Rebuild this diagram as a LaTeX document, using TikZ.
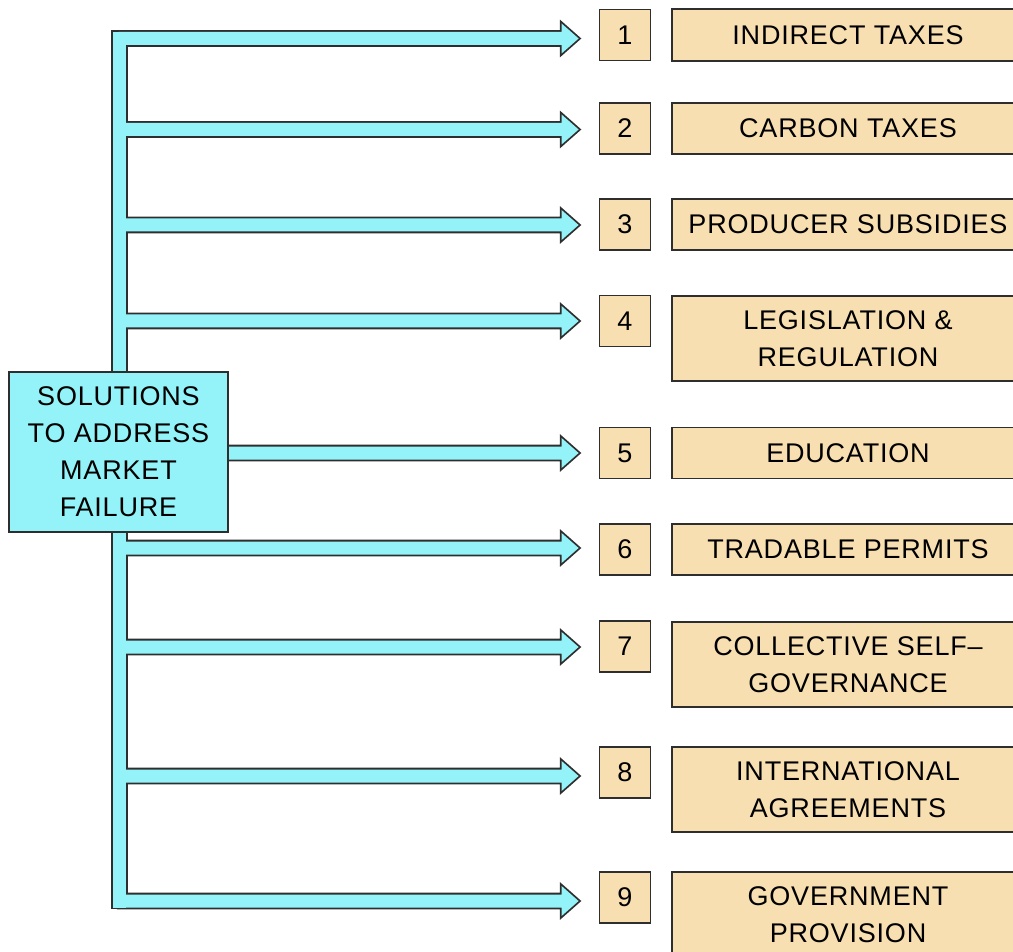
\documentclass[tikz,border=0pt]{standalone}
\usepackage{fontspec}
\setmainfont{Liberation Sans}[LetterSpace=3]
\usetikzlibrary{calc}
\definecolor{cyanfill}{HTML}{93F3F8}
\definecolor{tanfill}{HTML}{F8DFB1}
\definecolor{edgecol}{HTML}{2E2E2E}
\begin{document}
\begin{tikzpicture}[x=1pt,y=-1pt,
  font=\fontsize{27}{37}\selectfont,
  numbox/.style={draw=edgecol, line width=1.8pt, fill=tanfill, minimum width=51pt, minimum height=51pt, inner sep=0pt},
  itembox/.style={draw=edgecol, line width=1.8pt, fill=tanfill, minimum width=352pt, align=center, inner sep=0pt},
  mainbox/.style={draw=edgecol, line width=1.8pt, fill=cyanfill, minimum width=219pt, minimum height=160pt, align=center, inner sep=0pt},
  pipeedge/.style={draw=edgecol, line width=3.6pt, line join=miter},
  pipefill/.style={fill=cyanfill}]
\useasboundingbox (0,0) rectangle (1013,952);

% number boxes
\foreach \i/\y in {1/35,2/128.5,3/224.5,4/321,5/453,6/549.5,7/646.5,8/772.5,9/897.5}
  \node[numbox] (n\i) at (625,\y) {\i};

% item boxes
\node[itembox, minimum height=52pt] (b1) at (848,35) {INDIRECT TAXES};
\node[itembox, minimum height=51pt] (b2) at (848,128.5) {CARBON TAXES};
\node[itembox, minimum height=51pt] (b3) at (848,224.5) {PRODUCER SUBSIDIES};
\node[itembox, minimum height=85pt] (b4) at (848,338.5) {LEGISLATION \&\\REGULATION};
\node[itembox, minimum height=51pt] (b5) at (848,453) {EDUCATION};
\node[itembox, minimum height=51pt] (b6) at (848,549.5) {TRADABLE PERMITS};
\node[itembox, minimum height=85pt] (b7) at (848,664.5) {COLLECTIVE SELF--\\GOVERNANCE};
\node[itembox, minimum height=85pt] (b8) at (848,789.5) {INTERNATIONAL\\AGREEMENTS};
\node[itembox, minimum height=85pt] (b9) at (848,914.5) {GOVERNMENT\\PROVISION};

% arrow tips
\foreach \i/\d in {1/3.5,2/1,3/0.5,4/0,5/0,6/-1.5,7/0.5,8/3.5,9/3.5}
  \coordinate (t\i) at ($(n\i.west)+(-20,\d)$);

% pipe outline pass
\draw[pipeedge] (113,32) rectangle (126,907.5);
\foreach \i in {1,...,9}
  \draw[pipeedge] (t\i) -- ++(-17,-15) -- ++(0,8.5) -- ++(-443,0) -- ++(0,13) -- ++(443,0) -- ++(0,8.5) -- cycle;
% pipe fill pass
\fill[pipefill] (113,32) rectangle (126,907.5);
\foreach \i in {1,...,9}
  \fill[pipefill] (t\i) -- ++(-17,-15) -- ++(0,8.5) -- ++(-443,0) -- ++(0,13) -- ++(443,0) -- ++(0,8.5) -- cycle;

% main box
\node[mainbox] (main) at (118.5,452) {SOLUTIONS\\TO ADDRESS\\MARKET\\FAILURE};
\end{tikzpicture}
\end{document}
